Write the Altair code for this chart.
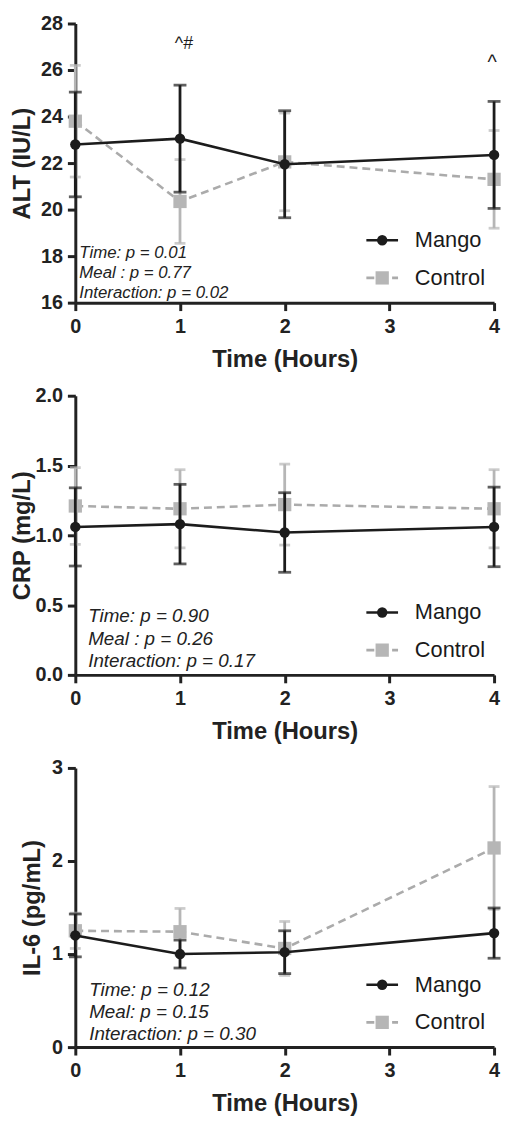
import altair as alt
import pandas as pd

# ---------------- data ----------------
times = [0, 1, 2, 4]

alt_mango = [22.8, 23.05, 21.95, 22.35]
alt_mango_sem = [2.25, 2.3, 2.3, 2.3]
alt_control = [23.8, 20.35, 22.05, 21.3]
alt_control_sem = [2.4, 1.8, 2.1, 2.1]

crp_mango = [1.06, 1.08, 1.02, 1.06]
crp_mango_sem = [0.28, 0.285, 0.285, 0.285]
crp_control = [1.21, 1.19, 1.22, 1.19]
crp_control_sem = [0.275, 0.28, 0.29, 0.28]

il6_mango = [1.2, 1.0, 1.02, 1.225]
il6_mango_sem = [0.23, 0.15, 0.23, 0.27]
il6_control = [1.25, 1.24, 1.06, 2.14]
il6_control_sem = [0.19, 0.25, 0.29, 0.66]

alt_stats = ["Time: p = 0.01", "Meal : p = 0.77", "Interaction: p = 0.02"]
crp_stats = ["Time: p = 0.90", "Meal : p = 0.26", "Interaction: p = 0.17"]
il6_stats = ["Time: p = 0.12", "Meal: p = 0.15", "Interaction: p = 0.30"]

x_ticks = [0, 1, 2, 3, 4]
alt_ticks = [16, 18, 20, 22, 24, 26, 28]
crp_ticks = [0.0, 0.5, 1.0, 1.5, 2.0]
il6_ticks = [0, 1, 2, 3]

alt_sig_labels = ["^#", "^"]
alt_sig_time = [1, 4]
alt_sig_value = [27.1, 26.3]

legend_labels = ["Mango", "Control"]

BLACK = "#1c1c1c"
GRAY_LINE = "#ababab"
GRAY_MARK = "#b6b6b6"
FONT = "Liberation Sans"
W, H = 423, 282


def make_df(m, ms, c, cs):
    rows = []
    for t, v, s in zip(times, m, ms):
        rows.append({"time": t, "mean": v, "lo": v - s, "hi": v + s, "group": "Mango"})
    for t, v, s in zip(times, c, cs):
        rows.append({"time": t, "mean": v, "lo": v - s, "hi": v + s, "group": "Control"})
    return pd.DataFrame(rows)


def panel(df, ydom, yticks, yfmt, ytitle, title_x, stats, stat_font, stat_x, stat_y0, stat_dy,
          sig=None):
    xscale = alt.Scale(domain=[0, 4], nice=False, zero=False)
    yscale = alt.Scale(domain=ydom, nice=False, zero=False)
    xaxis = alt.Axis(values=x_ticks, format="d", title="Time (Hours)", labelFlush=False)
    yaxis = alt.Axis(values=yticks, format=yfmt, title=ytitle, titleAngle=270,
                     titleBaseline="middle", titleAlign="center", titleX=title_x, titleY=H / 2)
    X = alt.X("time:Q", scale=xscale, axis=xaxis)
    base = alt.Chart(df)
    layers = []
    for grp, col, mcol, cap in [("Control", GRAY_MARK, GRAY_MARK, 11), ("Mango", BLACK, BLACK, 13)]:
        b = base.transform_filter(alt.datum.group == grp)
        layers.append(b.mark_rule(color=col, strokeWidth=2.8).encode(
            x=X, y=alt.Y("lo:Q", scale=yscale, axis=yaxis), y2="hi:Q"))
        for f in ["lo", "hi"]:
            layers.append(b.mark_tick(color=col, orient="horizontal", size=cap, thickness=2.8).encode(
                x=X, y=alt.Y(f + ":Q", scale=yscale, axis=yaxis)))
        if grp == "Control":
            layers.append(b.mark_line(color=GRAY_LINE, strokeWidth=2.6, strokeDash=[8, 5]).encode(
                x=X, y=alt.Y("mean:Q", scale=yscale, axis=yaxis)))
            layers.append(b.mark_point(shape="square", filled=True, size=180, color=mcol, opacity=1).encode(
                x=X, y=alt.Y("mean:Q", scale=yscale, axis=yaxis)))
        else:
            layers.append(b.mark_line(color=BLACK, strokeWidth=2.6).encode(
                x=X, y=alt.Y("mean:Q", scale=yscale, axis=yaxis)))
            layers.append(b.mark_point(shape="circle", filled=True, size=110, color=mcol, opacity=1).encode(
                x=X, y=alt.Y("mean:Q", scale=yscale, axis=yaxis)))

    if sig is not None:
        for lab, t, v, fs, dx in zip(sig[0], sig[1], sig[2], [18, 20], [4, -2]):
            sdf = pd.DataFrame({"time": [t], "val": [v], "lab": [lab]})
            layers.append(alt.Chart(sdf).mark_text(font=FONT, fontSize=fs, color=BLACK, dx=dx).encode(
                x=X, y=alt.Y("val:Q", scale=yscale, axis=yaxis), text="lab:N"))

    # statistics text
    for i, s in enumerate(stats):
        layers.append(alt.Chart(pd.DataFrame({"t": [s]})).mark_text(
            font=FONT, fontSize=stat_font, fontStyle="italic", align="left", baseline="middle",
            color="#222222").encode(x=alt.value(stat_x), y=alt.value(stat_y0 + i * stat_dy), text="t:N"))

    # manual legend
    ly = [219, 257]
    ldf_m = pd.DataFrame({"t": [legend_labels[0]]})
    ldf_c = pd.DataFrame({"t": [legend_labels[1]]})
    layers.append(alt.Chart(ldf_m).mark_rule(color=BLACK, strokeWidth=2.6).encode(
        x=alt.value(294), x2=alt.value(326), y=alt.value(ly[0])))
    layers.append(alt.Chart(ldf_m).mark_point(shape="circle", filled=True, size=110, color=BLACK, opacity=1).encode(
        x=alt.value(310), y=alt.value(ly[0])))
    layers.append(alt.Chart(ldf_c).mark_rule(color=GRAY_LINE, strokeWidth=2.6, strokeDash=[8, 5]).encode(
        x=alt.value(294), x2=alt.value(326), y=alt.value(ly[1])))
    layers.append(alt.Chart(ldf_c).mark_point(shape="square", filled=True, size=180, color=GRAY_MARK, opacity=1).encode(
        x=alt.value(310), y=alt.value(ly[1])))
    for d, yy in [(ldf_m, ly[0]), (ldf_c, ly[1])]:
        layers.append(alt.Chart(d).mark_text(font=FONT, fontSize=22, align="left", baseline="middle",
                                             color="#1a1a1a").encode(
            x=alt.value(343), y=alt.value(yy), text="t:N"))

    return alt.layer(*layers).properties(width=W, height=H)


p1 = panel(make_df(alt_mango, alt_mango_sem, alt_control, alt_control_sem), [16, 28], alt_ticks, "d",
           "ALT (IU/L)", -53, alt_stats, 17, 4, 232, 20,
           sig=(alt_sig_labels, alt_sig_time, alt_sig_value))
p2 = panel(make_df(crp_mango, crp_mango_sem, crp_control, crp_control_sem), [0, 2], crp_ticks, ".1f",
           "CRP (mg/L)", -53, crp_stats, 19, 13, 223, 22.5)
p3 = panel(make_df(il6_mango, il6_mango_sem, il6_control, il6_control_sem), [0, 3], il6_ticks, "d",
           "IL-6 (pg/mL)", -43, il6_stats, 19, 14, 224, 22.5)

chart = alt.vconcat(p1, p2, p3, spacing=94, bounds="flush").properties(
    padding={"left": 3, "top": 0, "right": 0, "bottom": 0}
).configure_view(stroke=None).configure_axis(
    domainColor="#222222", domainWidth=3, tickColor="#222222", tickWidth=3, tickSize=8,
    labelFont=FONT, labelFontSize=20, labelFontWeight="bold", labelColor="#222222",
    titleFont=FONT, titleFontSize=24, titleFontWeight="bold", titleColor="#222222", grid=False
).configure_axisX(labelPadding=6, titlePadding=11).configure_axisY(labelPadding=5)

chart.save("out.html", embed_options={"renderer": "svg", "actions": False})
